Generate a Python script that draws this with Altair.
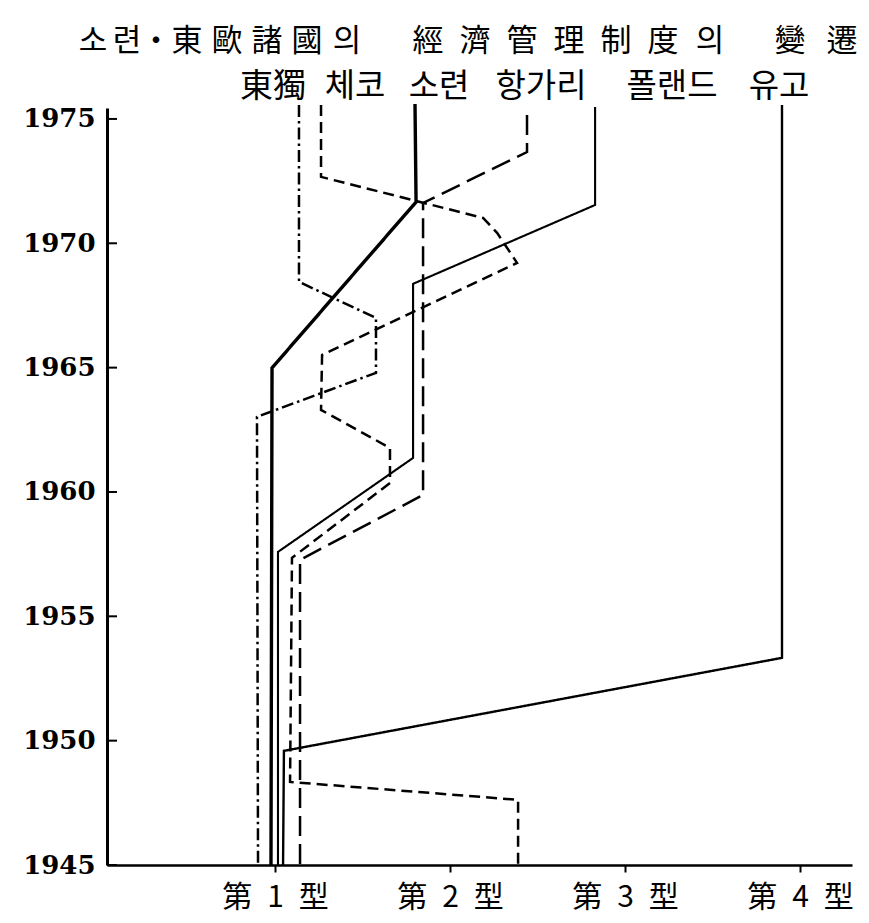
import altair as alt
import pandas as pd

# ---------------- data ----------------
countries = ["東獨", "체코", "소련", "항가리", "폴랜드", "유고"]

eg_type = [1.137, 1.137, 1.577, 1.577, 0.897, 0.903]
eg_year = [1975.56, 1968.45, 1967.0, 1964.79, 1963.02, 1945.0]

cz_type = [1.263, 1.263, 2.189, 2.269, 2.383, 1.269, 1.263, 1.657, 1.657,
           1.097, 1.086, 2.389, 2.389]
cz_year = [1975.56, 1972.67, 1971.02, 1970.42, 1969.21, 1965.51, 1963.30,
           1961.77, 1960.36, 1957.35, 1948.34, 1947.62, 1945.0]

su_type = [1.80, 1.806, 0.983, 0.977]
su_year = [1975.6, 1971.66, 1964.99, 1945.0]

hu_type = [2.44, 2.44, 1.846, 1.846, 1.143, 1.143]
hu_year = [1975.16, 1973.67, 1971.62, 1959.88, 1957.27, 1945.0]

pl_type = [2.829, 2.829, 1.789, 1.789, 1.017, 1.017]
pl_year = [1975.48, 1971.54, 1968.37, 1961.37, 1957.59, 1945.0]

yu_type = [3.897, 3.897, 1.051, 1.046]
yu_year = [1975.56, 1953.33, 1949.59, 1945.0]

year_ticks = [1945, 1950, 1955, 1960, 1965, 1970, 1975]
type_ticks = [1, 2, 3, 4]

title_groups = ["소련・東歐諸國의", "經濟管理制度의", "變遷"]

series = [
    (countries[0], eg_type, eg_year),
    (countries[1], cz_type, cz_year),
    (countries[2], su_type, su_year),
    (countries[3], hu_type, hu_year),
    (countries[4], pl_type, pl_year),
    (countries[5], yu_type, yu_year),
]

# ---------------- layout / style ----------------
W, H = 745, 757
X_DOM = [0.04, 4.297]
Y_DOM = [1945, 1975.44]
xs = alt.Scale(domain=X_DOM, nice=False, zero=False)
ys = alt.Scale(domain=Y_DOM, nice=False, zero=False)

styles = {
    "東獨": dict(strokeDash=[12, 4, 2.5, 4], strokeWidth=2.5),
    "체코": dict(strokeDash=[11, 6], strokeWidth=2.5),
    "소련": dict(strokeDash=[1, 0], strokeWidth=3.4),
    "항가리": dict(strokeDash=[20, 8], strokeWidth=2.5),
    "폴랜드": dict(strokeDash=[1, 0], strokeWidth=2.1),
    "유고": dict(strokeDash=[1, 0], strokeWidth=2.4),
}

x_axis = alt.Axis(values=type_ticks,
                  labelExpr="'第\u2002' + datum.value + '\u2002型'",
                  title=None, grid=False, tickSize=7, tickWidth=2,
                  tickColor="black", domainColor="black", domainWidth=2.5,
                  labelFont="Noto Sans CJK KR", labelFontSize=30,
                  labelColor="black", labelPadding=10)
y_axis = alt.Axis(values=year_ticks, format="d", title=None, grid=False,
                  ticks=False, domainColor="black", domainWidth=3,
                  labelFont="DejaVu Serif", labelFontSize=26,
                  labelFontWeight="bold",
                  labelColor="black", labelPadding=12)

layers = []
for i, (name, tx, ty) in enumerate(series):
    df = pd.DataFrame({"type": tx, "year": ty, "idx": list(range(len(tx)))})
    st = styles[name]
    layers.append(
        alt.Chart(df).mark_line(color="black", strokeJoin="miter",
                                strokeCap="butt", **st).encode(
            x=alt.X("type:Q", scale=xs, axis=x_axis),
            y=alt.Y("year:Q", scale=ys, axis=y_axis),
            order="idx:Q",
        )
    )

# inward ticks on y axis
tick_df = pd.DataFrame({"year": year_ticks})
layers.append(
    alt.Chart(tick_df).mark_rule(color="black", strokeWidth=2).encode(
        y=alt.Y("year:Q", scale=ys, axis=y_axis),
        x=alt.value(0), x2=alt.value(10),
    )
)

# title characters (absolute page centres -> plot coords)
PLOT_LEFT, PLOT_TOP = 107, 108
title_centres = [
    [93, 127, 156, 187, 227, 267, 307, 347],
    [428, 475, 522, 569, 616, 663, 710],
    [790, 842],
]
for grp, cents in zip(title_groups, title_centres):
    for ch, cx in zip(grp, cents):
        layers.append(
            alt.Chart(pd.DataFrame({"t": [ch]})).mark_text(
                font="Noto Sans CJK KR", fontSize=31, color="black",
                align="center", baseline="middle").encode(
                text="t:N", x=alt.value(cx - PLOT_LEFT),
                y=alt.value(42 - PLOT_TOP))
        )

# country labels above lines
label_centres = [273, 355, 439, 541, 672, 779]
for name, cx in zip(countries, label_centres):
    layers.append(
        alt.Chart(pd.DataFrame({"t": [name]})).mark_text(
            font="Noto Sans CJK KR", fontSize=33, color="black",
            align="center", baseline="middle").encode(
            text="t:N", x=alt.value(cx - PLOT_LEFT),
            y=alt.value(87 - PLOT_TOP))
    )

chart = alt.layer(*layers).properties(
    width=W, height=H,
    autosize=alt.AutoSizeParams(type="none"),
    padding={"left": 99, "top": 100, "right": 9, "bottom": 50},
    background="white",
).configure_view(stroke=None)

chart.save("out.html", embed_options={"renderer": "svg", "actions": False})
